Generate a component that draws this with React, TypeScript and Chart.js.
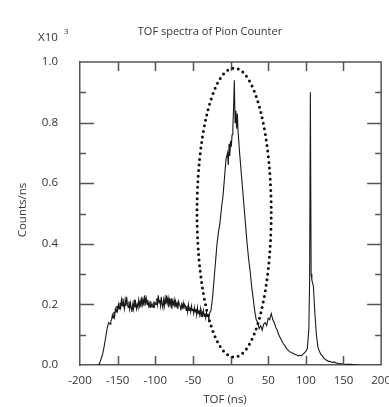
import React, { useEffect, useRef } from "react";
import { Chart, registerables } from "chart.js";

Chart.register(...registerables);

const chartTitle = "TOF spectra of Pion Counter";
const xAxisTitle = "TOF (ns)";
const yAxisTitle = "Counts/ns";
const yExponentBase = "X10";
const yExponentPower = "3";

const tofNs: number[] = [
  -176, -174, -172, -170, -168, -166, -164, -162, -160,
  -159, -158, -157, -156, -155, -154, -153, -152, -151, -150,
  -149, -148, -147, -146, -145, -144, -143, -142, -141, -140,
  -139, -138, -137, -136, -135, -134, -133, -132, -131, -130,
  -129, -128, -127, -126, -125, -124, -123, -122, -121, -120,
  -119, -118, -117, -116, -115, -114, -113, -112, -111, -110,
  -109, -108, -107, -106, -105, -104, -103, -102, -101, -100,
  -99, -98, -97, -96, -95, -94, -93, -92, -91, -90,
  -89, -88, -87, -86, -85, -84, -83, -82, -81, -80,
  -79, -78, -77, -76, -75, -74, -73, -72, -71, -70,
  -69, -68, -67, -66, -65, -64, -63, -62, -61, -60,
  -59, -58, -57, -56, -55, -54, -53, -52, -51, -50,
  -49, -48, -47, -46, -45, -44, -43, -42, -41, -40,
  -39, -38, -37, -36, -35, -34, -33, -32, -31, -30,
  -29, -28,
  -26, -24, -22, -20, -18, -16, -14, -12, -10, -8,
  -6, -4, -3, -2, -1, 0, 1, 2, 3, 4,
  5, 6, 7, 8, 9, 10, 12, 14, 16, 18,
  20, 22, 24, 26, 28, 30, 32, 34, 36, 38,
  40, 42, 44, 46, 48, 50, 52, 54, 56, 58,
  60, 62, 64, 66, 68, 70, 72, 74, 76, 78,
  80, 82, 84, 86, 88, 90, 92, 94, 96, 98,
  100, 102, 104, 105, 106, 107, 108, 110, 112, 114,
  116, 118, 120, 122, 124, 126, 128, 130, 132, 134,
  136, 138, 140, 142, 144, 146, 148, 150, 155, 160,
  165, 170,
];

const countsPerNs: number[] = [
  0, 0.005, 0.02, 0.035, 0.06, 0.09, 0.12, 0.14, 0.135,
  0.145, 0.15, 0.165, 0.155, 0.175, 0.16, 0.185, 0.175, 0.195, 0.18,
  0.2, 0.185, 0.205, 0.19, 0.215, 0.195, 0.22, 0.2, 0.185, 0.215,
  0.195, 0.225, 0.2, 0.19, 0.21, 0.185, 0.205, 0.19, 0.175, 0.2,
  0.185, 0.215, 0.19, 0.205, 0.185, 0.2, 0.19, 0.215, 0.195, 0.21,
  0.19, 0.225, 0.2, 0.215, 0.195, 0.23, 0.205, 0.22, 0.2, 0.215,
  0.195, 0.205, 0.19, 0.21, 0.195, 0.2, 0.19, 0.21, 0.195, 0.205,
  0.2, 0.22, 0.2, 0.23, 0.205, 0.215, 0.195, 0.225, 0.2, 0.19,
  0.215, 0.195, 0.22, 0.2, 0.23, 0.205, 0.22, 0.19, 0.215, 0.2,
  0.22, 0.185, 0.21, 0.2, 0.215, 0.19, 0.21, 0.195, 0.205, 0.185,
  0.21, 0.2, 0.195, 0.18, 0.2, 0.19, 0.205, 0.185, 0.2, 0.195,
  0.18, 0.195, 0.175, 0.2, 0.18, 0.19, 0.175, 0.195, 0.18, 0.185,
  0.17, 0.19, 0.175, 0.185, 0.165, 0.19, 0.17, 0.18, 0.165, 0.185,
  0.16, 0.175, 0.165, 0.18, 0.16, 0.17, 0.155, 0.175, 0.16, 0.165,
  0.15, 0.17,
  0.18, 0.22, 0.28, 0.34, 0.4, 0.44, 0.47, 0.52, 0.56, 0.62,
  0.68, 0.7, 0.66, 0.73, 0.69, 0.74, 0.72, 0.76, 0.78, 0.85,
  0.94, 0.8, 0.84, 0.78, 0.83, 0.77, 0.7, 0.64, 0.58, 0.52,
  0.46, 0.4, 0.35, 0.31, 0.26, 0.22, 0.18, 0.15, 0.14, 0.12,
  0.13, 0.115, 0.135, 0.14, 0.13, 0.155, 0.15, 0.17, 0.15, 0.14,
  0.125, 0.115, 0.1, 0.09, 0.08, 0.07, 0.065, 0.055, 0.05, 0.045,
  0.042, 0.04, 0.037, 0.035, 0.033, 0.03, 0.032, 0.03, 0.035, 0.04,
  0.045, 0.055, 0.12, 0.28, 0.9, 0.3, 0.28, 0.26, 0.17, 0.1,
  0.06, 0.045, 0.035, 0.03, 0.022, 0.018, 0.015, 0.012, 0.012, 0.01,
  0.008, 0.01, 0.007, 0.006, 0.005, 0.004, 0.004, 0.003, 0.002, 0.002,
  0.001, 0,
];

const xTicks: number[] = [-200, -150, -100, -50, 0, 50, 100, 150, 200];
const yTicks: number[] = [0, 0.2, 0.4, 0.6, 0.8, 1.0];
const yMinorTicks: number[] = [0.1, 0.3, 0.5, 0.7, 0.9];

// highlighted region (ellipse) in data units: center and half-extents
const ellipseCenter: number[] = [4.7, 0.503];
const ellipseHalfSize: number[] = [49.3, 0.477];

const FONT = "'Open Sans', 'Noto Sans', sans-serif";
const AXIS = "#555";
const TEXT = "#333";

const decorPlugin = {
  id: "decor",
  afterDraw(chart: any) {
    const { ctx, chartArea } = chart;
    const xs = chart.scales.x;
    const ys = chart.scales.y;
    const { left, right, top, bottom } = chartArea;
    ctx.save();
    ctx.strokeStyle = AXIS;
    ctx.lineWidth = 1.5;
    ctx.beginPath();
    ctx.moveTo(left, top);
    ctx.lineTo(right, top);
    ctx.lineTo(right, bottom);
    ctx.stroke();
    ctx.beginPath();
    xTicks.forEach((v) => {
      if (v === xTicks[0] || v === xTicks[xTicks.length - 1]) return;
      const px = Math.round(xs.getPixelForValue(v)) + 0.5;
      ctx.moveTo(px, bottom);
      ctx.lineTo(px, bottom - 9);
      ctx.moveTo(px, top);
      ctx.lineTo(px, top + 9);
    });
    yTicks.forEach((v) => {
      if (v === yTicks[0] || v === yTicks[yTicks.length - 1]) return;
      const py = Math.round(ys.getPixelForValue(v)) + 0.5;
      ctx.moveTo(left, py);
      ctx.lineTo(left + 14, py);
      ctx.moveTo(right, py);
      ctx.lineTo(right - 14, py);
    });
    yMinorTicks.forEach((v) => {
      const py = Math.round(ys.getPixelForValue(v)) + 0.5;
      ctx.moveTo(left, py);
      ctx.lineTo(left + 6, py);
      ctx.moveTo(right, py);
      ctx.lineTo(right - 6, py);
    });
    ctx.stroke();
    const cx = xs.getPixelForValue(ellipseCenter[0]);
    const cy = ys.getPixelForValue(ellipseCenter[1]);
    const rx = Math.abs(xs.getPixelForValue(ellipseCenter[0] + ellipseHalfSize[0]) - cx);
    const ry = Math.abs(ys.getPixelForValue(ellipseCenter[1] + ellipseHalfSize[1]) - cy);
    ctx.strokeStyle = "#111";
    ctx.lineWidth = 3;
    ctx.lineCap = "round";
    ctx.setLineDash([0, 5.6]);
    ctx.beginPath();
    ctx.ellipse(cx, cy, rx, ry, 0, 0, Math.PI * 2);
    ctx.stroke();
    ctx.setLineDash([]);
    ctx.fillStyle = TEXT;
    ctx.textBaseline = "middle";
    ctx.textAlign = "center";
    ctx.font = `11px ${FONT}`;
    ctx.fillText(chartTitle, 210, 32);
    ctx.font = `11.5px ${FONT}`;
    ctx.fillText(xAxisTitle, 225, 400);
    ctx.textAlign = "left";
    ctx.fillText(yExponentBase, 38, 38);
    ctx.font = `8px ${FONT}`;
    ctx.fillText(yExponentPower, 64, 32);
    ctx.save();
    ctx.translate(23, 210);
    ctx.rotate(-Math.PI / 2);
    ctx.textAlign = "center";
    ctx.font = `11.5px ${FONT}`;
    ctx.fillText(yAxisTitle, 0, 0);
    ctx.restore();
    ctx.restore();
  },
};

export default function App() {
  const ref = useRef<HTMLCanvasElement | null>(null);
  useEffect(() => {
    if (!ref.current) return;
    Chart.defaults.font.family = FONT;
    const chart = new Chart(ref.current, {
      type: "line",
      data: {
        datasets: [
          {
            label: "TOF spectrum",
            data: tofNs.map((x, i) => ({ x, y: countsPerNs[i] })),
            borderColor: "#1a1a1a",
            borderWidth: 1.1,
            pointRadius: 0,
            tension: 0,
            fill: false,
          },
        ],
      },
      options: {
        responsive: false,
        animation: false,
        devicePixelRatio: 1,
        layout: { padding: { left: 0, top: 62, right: 16, bottom: 0 } },
        plugins: { legend: { display: false }, tooltip: { enabled: false }, title: { display: false } },
        scales: {
          x: {
            type: "linear",
            min: -200,
            max: 200,
            afterFit: (s: any) => {
              s.height = 42;
            },
            afterBuildTicks: (s: any) => {
              s.ticks = xTicks.map((v) => ({ value: v }));
            },
            ticks: { font: { size: 11.5, family: FONT }, color: TEXT, padding: 9, maxRotation: 0, autoSkip: false },
            grid: { display: false, drawTicks: false },
            border: { display: true, color: AXIS, width: 1.5 },
          },
          y: {
            type: "linear",
            min: 0,
            max: 1,
            afterFit: (s: any) => {
              s.width = 80;
            },
            afterBuildTicks: (s: any) => {
              s.ticks = yTicks.map((v) => ({ value: v }));
            },
            ticks: {
              font: { size: 11.5, family: FONT },
              color: TEXT,
              padding: 22,
              callback: (v: any) => Number(v).toFixed(1),
            },
            grid: { display: false, drawTicks: false },
            border: { display: true, color: AXIS, width: 1.5 },
          },
        },
      },
      plugins: [decorPlugin],
    });
    return () => chart.destroy();
  }, []);
  return (
    <div style={{ position: "fixed", left: 0, top: 0, width: 389, height: 407, overflow: "hidden", background: "#fff" }}>
      <canvas ref={ref} width={400} height={407} style={{ width: 400, height: 407, display: "block" }} />
    </div>
  );
}
